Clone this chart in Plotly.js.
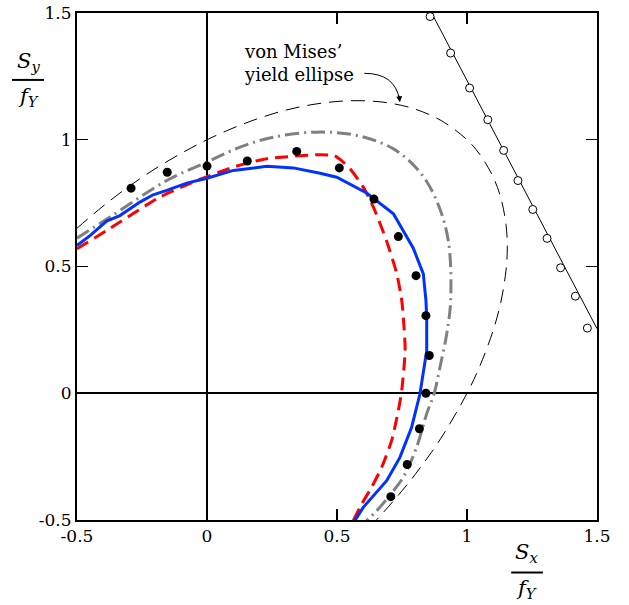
<!DOCTYPE html>
<html>
<head>
<meta charset="utf-8">
<script src="https://cdn.plot.ly/plotly-3.0.1.min.js"></script>
<style>html,body{margin:0;padding:0;background:#fff;}#chart{width:629px;height:605px;}</style>
</head>
<body>
<div id="chart"></div>
<script>
// von Mises' yield ellipse
const vmX = [-0.5, -0.4, -0.3, -0.2, -0.1, 0.0, 0.1, 0.2, 0.3, 0.4, 0.5, 0.6, 0.7, 0.8, 0.9, 1.0, 1.05, 1.1, 1.13, 1.15, 1.155, 1.15, 1.13, 1.1, 1.05, 1.0, 0.9, 0.8, 0.7, 0.645];
const vmY = [0.651, 0.738, 0.816, 0.885, 0.946, 1.0, 1.046, 1.085, 1.116, 1.138, 1.151, 1.154, 1.145, 1.121, 1.076, 1.0, 0.941, 0.854, 0.771, 0.665, 0.577, 0.485, 0.359, 0.246, 0.109, 0.0, -0.177, -0.321, -0.445, -0.507];

// grey dash-dot curve
const grayX = [-0.5, -0.373, -0.155, 0.0, 0.127, 0.255, 0.422, 0.576, 0.717, 0.819, 0.883, 0.928, 0.937, 0.922, 0.896, 0.874, 0.845, 0.806, 0.755, 0.697, 0.653, 0.614];
const grayY = [0.612, 0.695, 0.839, 0.912, 0.971, 1.010, 1.030, 1.017, 0.964, 0.872, 0.760, 0.603, 0.366, 0.234, 0.103, 0.0, -0.081, -0.213, -0.331, -0.410, -0.463, -0.502];

// red dashed curve
const redX = [-0.5, -0.386, -0.181, -0.053, 0.101, 0.230, 0.435, 0.49, 0.524, 0.550, 0.601, 0.640, 0.691, 0.730, 0.749, 0.755, 0.762, 0.749, 0.736, 0.710, 0.672, 0.633, 0.595, 0.563];
const redY = [0.570, 0.642, 0.774, 0.833, 0.892, 0.925, 0.941, 0.937, 0.912, 0.886, 0.813, 0.734, 0.600, 0.471, 0.366, 0.300, 0.168, 0.011, -0.068, -0.187, -0.292, -0.371, -0.437, -0.502];

// blue solid curve
const blueX = [-0.5, -0.45, -0.386, -0.335, -0.258, -0.207, -0.155, -0.078, 0.0, 0.101, 0.230, 0.332, 0.435, 0.499, 0.614, 0.717, 0.793, 0.832, 0.842, 0.845, 0.845, 0.832, 0.819, 0.787, 0.742, 0.691, 0.640, 0.601, 0.569];
const blueY = [0.583, 0.622, 0.679, 0.701, 0.754, 0.783, 0.800, 0.829, 0.848, 0.879, 0.895, 0.889, 0.868, 0.852, 0.790, 0.708, 0.573, 0.471, 0.366, 0.300, 0.168, 0.077, -0.003, -0.134, -0.253, -0.345, -0.404, -0.450, -0.502];

// filled test points
const dotX = [-0.292, -0.153, 0.0, 0.155, 0.345, 0.509, 0.642, 0.736, 0.804, 0.842, 0.855, 0.842, 0.817, 0.770, 0.707];
const dotY = [0.809, 0.872, 0.896, 0.916, 0.954, 0.889, 0.766, 0.618, 0.464, 0.306, 0.149, 0.0, -0.140, -0.281, -0.408];

// open circles
const openX = [0.858, 0.937, 1.010, 1.080, 1.141, 1.196, 1.253, 1.308, 1.360, 1.417, 1.463];
const openY = [1.486, 1.342, 1.204, 1.079, 0.958, 0.839, 0.725, 0.611, 0.495, 0.383, 0.257];

// straight solid line
const lineX = [0.864, 1.5];
const lineY = [1.5, 0.255];

const tickVals = [-0.5, 0, 0.5, 1, 1.5];
const tickText = ['-0.5', '0', '0.5', '1', '1.5'];

const serif = 'DejaVu Serif, Liberation Serif, serif';

const traces = [
  {x: vmX, y: vmY, mode: 'lines', line: {color: '#000', width: 1, dash: '14px,8px', shape: 'spline'}, hoverinfo: 'skip'},
  {x: grayX, y: grayY, mode: 'lines', line: {color: '#808080', width: 3, dash: '14px,5px,2px,5px', shape: 'spline'}, hoverinfo: 'skip'},
  {x: redX, y: redY, mode: 'lines', line: {color: '#ff0000', width: 3, dash: '13px,7px', shape: 'spline', smoothing: 0.6}, hoverinfo: 'skip'},
  {x: blueX, y: blueY, mode: 'lines', line: {color: '#0033ff', width: 3}, hoverinfo: 'skip'},
  {x: lineX, y: lineY, mode: 'lines', line: {color: '#000', width: 1}, hoverinfo: 'skip'},
  {x: dotX, y: dotY, mode: 'markers', marker: {color: '#000', size: 9, line: {width: 0}}, cliponaxis: false, hoverinfo: 'skip'},
  {x: openX, y: openY, mode: 'markers', marker: {color: '#fff', size: 8, line: {color: '#000', width: 1}}, cliponaxis: false, hoverinfo: 'skip'}
];

const axisCommon = {
  range: [-0.5, 1.5], autorange: false,
  tickmode: 'array', tickvals: tickVals, ticktext: tickText,
  ticks: 'inside', ticklen: 11, tickwidth: 1.3, tickcolor: '#000',
  showline: true, linecolor: '#000', linewidth: 2, mirror: 'ticks',
  showgrid: false,
  zeroline: true, zerolinecolor: '#000', zerolinewidth: 2,
  tickfont: {family: serif, size: 17, color: '#000'},
  fixedrange: true
};

const layout = {
  width: 629, height: 605,
  margin: {l: 77, r: 32, t: 13, b: 85},
  paper_bgcolor: '#fff', plot_bgcolor: '#fff',
  showlegend: false,
  xaxis: Object.assign({}, axisCommon),
  yaxis: Object.assign({}, axisCommon),
  font: {family: serif, color: '#000'},
  shapes: [
    {type: 'path', xref: 'x', yref: 'y', path: 'M 0.605,1.262 Q 0.722,1.262 0.740,1.160', line: {color: '#000', width: 1}},
    {type: 'line', xref: 'paper', yref: 'paper', x0: -0.125, x1: -0.0635, y0: 0.868, y1: 0.868, line: {color: '#000', width: 2}},
    {type: 'line', xref: 'paper', yref: 'paper', x0: 0.835, x1: 0.896, y0: -0.1036, y1: -0.1036, line: {color: '#000', width: 2}}
  ],
  annotations: [
    {xref: 'x', yref: 'y', x: 0.135, y: 1.303, xanchor: 'left', yanchor: 'middle', align: 'left', showarrow: false,
     text: 'von Mises’<br>yield ellipse', font: {family: serif, size: 18, color: '#000'}},
    {xref: 'x', yref: 'y', axref: 'x', ayref: 'y', x: 0.742, y: 1.148, ax: 0.738, ay: 1.18, text: '', showarrow: true,
     arrowhead: 2, arrowsize: 1.2, arrowwidth: 1, arrowcolor: '#000'},
    {xref: 'paper', yref: 'paper', x: -0.094, y: 0.904, xanchor: 'center', yanchor: 'middle', showarrow: false,
     text: '<i>S<sub>y</sub></i>', font: {family: serif, size: 21, color: '#000'}},
    {xref: 'paper', yref: 'paper', x: -0.094, y: 0.834, xanchor: 'center', yanchor: 'middle', showarrow: false,
     text: '<i>f<sub>Y</sub></i>', font: {family: serif, size: 21, color: '#000'}},
    {xref: 'paper', yref: 'paper', x: 0.865, y: -0.066, xanchor: 'center', yanchor: 'middle', showarrow: false,
     text: '<i>S<sub>x</sub></i>', font: {family: serif, size: 21, color: '#000'}},
    {xref: 'paper', yref: 'paper', x: 0.865, y: -0.136, xanchor: 'center', yanchor: 'middle', showarrow: false,
     text: '<i>f<sub>Y</sub></i>', font: {family: serif, size: 21, color: '#000'}}
  ]
};

Plotly.newPlot('chart', traces, layout, {displayModeBar: false, staticPlot: true});
</script>
</body>
</html>
